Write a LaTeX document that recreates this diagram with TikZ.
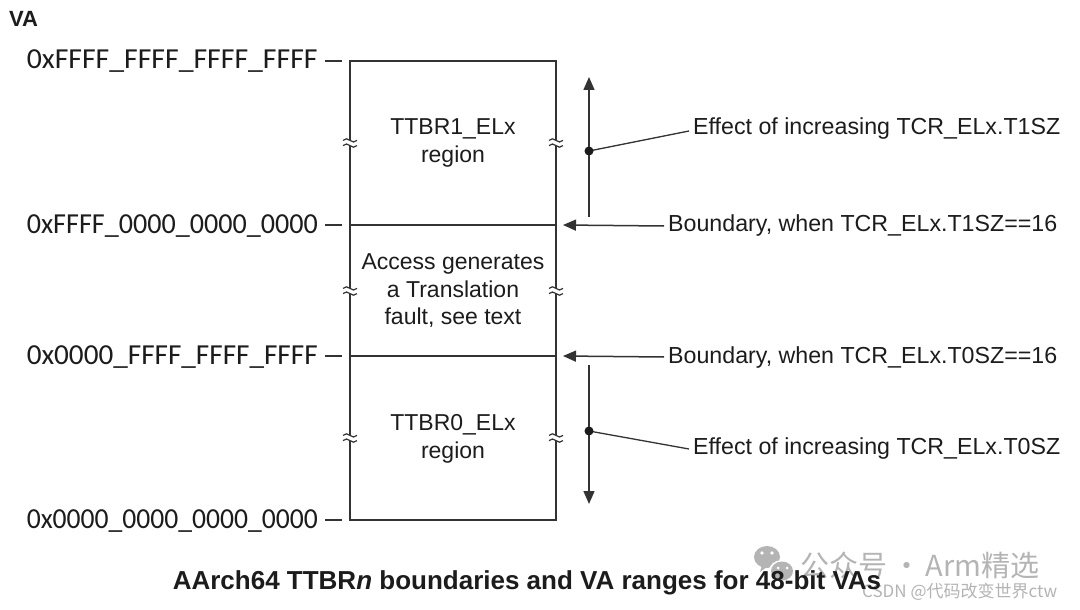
\documentclass[tikz,border=0pt]{standalone}
\usepackage{fontspec}
\usepackage{graphicx}
\setmainfont{Liberation Sans}
\newfontfamily\addrfont{Carlito}
\newfontfamily\cjk{Noto Sans CJK SC}
\usetikzlibrary{arrows.meta}
\definecolor{ink}{HTML}{1C1C1C}
\definecolor{rule}{HTML}{333333}
\definecolor{wmgray}{HTML}{B4B4B4}
\newcommand{\addrtext}[1]{\resizebox{291pt}{\height}{#1}}
\tikzset{
  x=1pt, y=-1pt,
  boxline/.style={draw=rule, line width=1.8pt},
  conn/.style={draw=rule, line width=1.5pt},
  tip/.style={-{Triangle[length=13pt,width=11pt]}},
  body/.style={font=\fontsize{23}{27.5}\selectfont, text=ink, align=center, inner sep=0pt},
  note/.style={font=\fontsize{23.2}{27.5}\selectfont, text=ink, anchor=west, inner sep=4pt},
  addr/.style={font=\addrfont\fontsize{29}{30}\selectfont, text=ink, anchor=east, inner sep=0pt},
  brk/.pic={
    \fill[white] (-2.5,-2.6) rectangle (2.5,2.6);
    \draw[rule, line width=1.2pt] (-7,-2.6) sin (-3.5,-4.2) cos (0,-2.6) sin (3.5,-1) cos (7,-2.6);
    \draw[rule, line width=1.2pt] (-7,2.6) sin (-3.5,1) cos (0,2.6) sin (3.5,4.2) cos (7,2.6);
  }
}
\begin{document}
\begin{tikzpicture}
\useasboundingbox[fill=white] (0,0) rectangle (1080,610);

% corners of the address column and the two boundaries
\coordinate (tl) at (350,61);  \coordinate (tr) at (556,61);
\coordinate (bl) at (350,520); \coordinate (br) at (556,520);
\coordinate (ul) at (350,225); \coordinate (ur) at (556,225);
\coordinate (ll) at (350,356); \coordinate (lr) at (556,356);

% address column
\draw[boxline] (tl) -- (tr) -- (br) -- (bl) -- cycle;
\draw[boxline] (ul) -- (ur);
\draw[boxline] (ll) -- (lr);

% break marks on both sides of every region
\foreach \yy in {143,291,438} {
  \pic at (350,\yy) {brk};
  \pic at (556,\yy) {brk};
}

% region texts
\node[body] (ttbr1) at (453,143) {TTBR1\_ELx\\region};
\node[body] (fault) at (453,291) {Access generates\\a Translation\\fault, see text};
\node[body] (ttbr0) at (453,439) {TTBR0\_ELx\\region};

% axis heading and addresses
\node[font=\bfseries\fontsize{22}{24}\selectfont, text=ink, anchor=west, inner sep=0pt] (va) at (9,19) {VA};
\node[addr] (a3) at (318,61)  {\addrtext{0xFFFF\_FFFF\_FFFF\_FFFF}};
\node[addr] (a2) at (318,226) {\addrtext{0xFFFF\_0000\_0000\_0000}};
\node[addr] (a1) at (318,357) {\addrtext{0x0000\_FFFF\_FFFF\_FFFF}};
\node[addr] (a0) at (318,521) {\addrtext{0x0000\_0000\_0000\_0000}};
\foreach \n/\yy in {a3/61,a2/225,a1/356,a0/520}
  \draw[rule, line width=1.5pt] (325,\yy) -- (342,\yy);

% boundary pointers
\node[note] (b1) at (664,226) {Boundary, when TCR\_ELx.T1SZ==16};
\node[note] (b0) at (664,357) {Boundary, when TCR\_ELx.T0SZ==16};
\coordinate (b1tip) at (563,225);
\coordinate (b0tip) at (563,356);
\draw[conn, tip] (b1.west) -- (b1tip);
\draw[conn, tip] (b0.west) -- (b0tip);

% effect of increasing T1SZ / T0SZ
\coordinate (up0) at (589,217);   \coordinate (up1) at (589,77);
\coordinate (dn0) at (589,365);   \coordinate (dn1) at (589,504);
\coordinate (d1) at (589,151);    \coordinate (d0) at (589,431);
\draw[conn, tip] (up0) -- (up1);
\draw[conn, tip] (dn0) -- (dn1);
\node[note] (e1) at (689,129) {Effect of increasing TCR\_ELx.T1SZ};
\node[note] (e0) at (689,448) {Effect of increasing TCR\_ELx.T0SZ};
\draw[rule, line width=1.3pt] (d1) -- ([yshift=-2]e1.west);
\draw[rule, line width=1.3pt] (d0) -- ([yshift=-1]e0.west);
\fill[ink] (d1) circle (4.5);
\fill[ink] (d0) circle (4.5);

% watermark
\begin{scope}[wmgray]
  \fill (767,557) ellipse (13 and 11);
  \fill[white] (782,571) ellipse (13 and 11);
  \fill (782,571) ellipse (11 and 9.5);
  \fill (760,572) -- (762,565) -- (767,567) -- cycle;
  \fill[white] (762,553) circle (1.8) (772,553) circle (1.8);
  \fill[white] (778,568) circle (1.5) (787,568) circle (1.5);
\end{scope}
\node[font=\cjk\fontsize{29}{32}\selectfont, text=wmgray, anchor=west, inner sep=0pt] (wm1) at (800,565) {公众号\,·\,Arm精选};
\node[font=\cjk\fontsize{17}{20}\selectfont, text=wmgray, anchor=west, inner sep=0pt] (wm2) at (862,592) {CSDN @代码改变世界ctw};

% caption
\node[font=\bfseries\fontsize{26}{30}\selectfont, text=ink, inner sep=0pt] (cap) at (527,583)
  {AArch64 TTBR\textit{n} boundaries and VA ranges for 48-bit VAs};
\end{tikzpicture}
\end{document}
